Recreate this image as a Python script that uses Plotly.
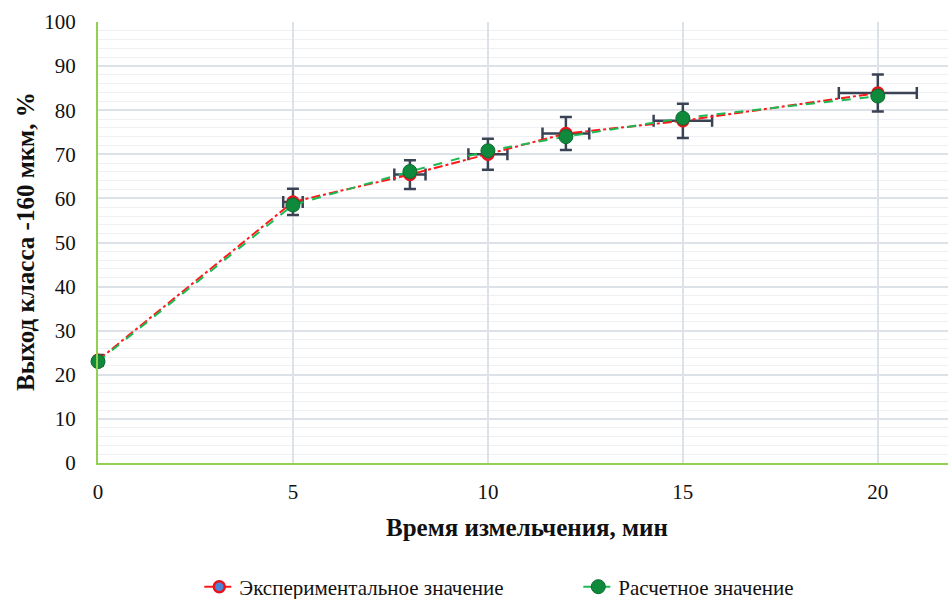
import plotly.graph_objects as go

# Grinding time, minutes
time_min = [0, 5, 8, 10, 12, 15, 20]
# Yield of the -160 µm class, %
experimental = [23.3, 59.2, 65.4, 70.0, 74.7, 77.6, 83.9]
calculated = [23.0, 58.5, 66.1, 70.8, 74.0, 78.2, 83.2]
# Relative measurement error (fraction) for both axes
rel_err = 0.05

x_title = "Время измельчения, мин"
y_title = "Выход класса -160 мкм, %"

x_err = [t * rel_err for t in time_min]
y_err = [v * rel_err for v in experimental]

font_family = "Liberation Serif"
err_color = "#3a4354"

fig = go.Figure()

fig.add_trace(go.Scatter(
    x=time_min, y=experimental,
    mode="lines+markers",
    name="Экспериментальное значение",
    cliponaxis=False,
    line=dict(color="#ff1a1a", width=2, dash="dashdot"),
    marker=dict(size=11, color="#4a86d6", line=dict(color="#e8141b", width=2.5)),
    error_x=dict(type="data", array=x_err, visible=True, color=err_color,
                 thickness=2.5, width=6),
    error_y=dict(type="data", array=y_err, visible=True, color=err_color,
                 thickness=2.5, width=6),
))

fig.add_trace(go.Scatter(
    x=time_min, y=calculated,
    mode="lines+markers",
    name="Расчетное значение",
    cliponaxis=False,
    line=dict(color="#1db954", width=2, dash="dash"),
    marker=dict(size=14, color="#0f8a3c", line=dict(color="#0a6b2c", width=1)),
))

fig.update_layout(
    width=949, height=599,
    margin=dict(l=98, r=1, t=22, b=136, autoexpand=False),
    paper_bgcolor="white",
    plot_bgcolor="white",
    font=dict(family=font_family, color="#111111"),
    showlegend=True,
    legend=dict(
        orientation="h",
        xref="container", x=0.21, xanchor="left",
        yref="container", y=0.02, yanchor="middle",
        font=dict(family=font_family, size=21, color="#111111"),
        entrywidth=334, tracegroupgap=0,
    ),
)

# Axis titles as free annotations for exact placement
fig.add_annotation(
    text=f"<b>{x_title}</b>", xref="paper", yref="paper",
    x=0.5 - (523 - 527) / 850, y=(463 - 527) / 441,
    xanchor="center", yanchor="middle", showarrow=False,
    font=dict(family=font_family, size=25, color="#111111"),
)
fig.add_annotation(
    text=f"<b>{y_title}</b>", xref="paper", yref="paper",
    x=(25 - 98) / 850, y=0.5 - (242.5 - 243) / 441,
    xanchor="center", yanchor="middle", textangle=-90, showarrow=False,
    font=dict(family=font_family, size=25, color="#111111"),
)

fig.update_xaxes(
    range=[0, 21.8],
    tickvals=[0, 5, 10, 15, 20],
    showgrid=True, gridcolor="#dde1e8", gridwidth=1.5,
    zeroline=False, automargin=False,
    showline=True, linecolor="#92d050", linewidth=2,
    ticks="", ticklabelstandoff=9,
    tickfont=dict(family=font_family, size=21, color="#111111"),
)

fig.update_yaxes(
    range=[0, 100],
    tickvals=[0, 10, 20, 30, 40, 50, 60, 70, 80, 90, 100],
    showgrid=True, gridcolor="#dde1e8", gridwidth=1.5,
    minor=dict(dtick=2, showgrid=True, gridcolor="#eef0f4", gridwidth=1),
    zeroline=False, automargin=False,
    showline=True, linecolor="#92d050", linewidth=2,
    ticks="", ticklabelstandoff=16,
    tickfont=dict(family=font_family, size=21, color="#111111"),
)

fig.write_html("out.html")
